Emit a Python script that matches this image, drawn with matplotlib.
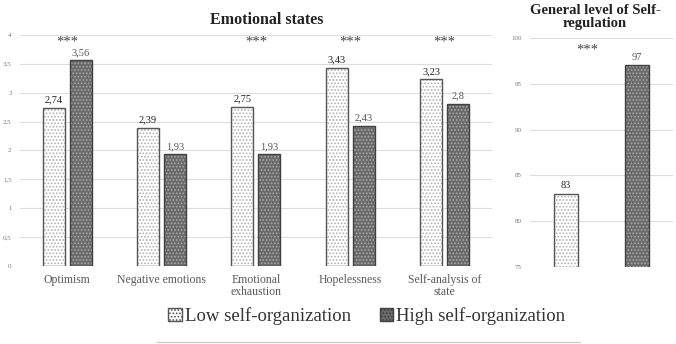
import numpy as np
import matplotlib.pyplot as plt
from matplotlib.patches import Patch
from matplotlib.lines import Line2D

# data
categories = ['Optimism', 'Negative emotions', 'Emotional\nexhaustion',
              'Hopelessness', 'Self-analysis of\nstate']
low_vals = [2.74, 2.39, 2.75, 3.43, 3.23]
high_vals = [3.56, 1.93, 1.93, 2.43, 2.80]
stars = ['***', '', '***', '***', '***']

reg_low = 83
reg_high = 97

plt.rcParams['font.family'] = ['Liberation Serif', 'DejaVu Serif']
plt.rcParams['hatch.linewidth'] = 0.8

low_face, low_dot, low_edge = 'white', '#b0b0b0', '#555555'
high_face, high_dot, high_edge = '#6a6a6a', '#a8a8a8', '#404040'

def fmt(v):
    s = ('%.2f' % v).rstrip('0').rstrip('.')
    return s.replace('.', ',')

def draw_bar(ax, x, h, w, face, dot, edge):
    ax.bar(x, h, w, color=face, edgecolor=dot, hatch='.....', linewidth=0, zorder=2)
    ax.bar(x, h, w, fill=False, edgecolor=edge, linewidth=1, zorder=3)

def style(ax):
    for s in ax.spines.values():
        s.set_visible(False)
    ax.yaxis.grid(True, color='#dcdcdc', linewidth=0.8, zorder=0)
    ax.set_axisbelow(True)
    ax.tick_params(axis='y', length=0, labelsize=5, labelcolor='#777777', pad=6)
    ax.tick_params(axis='x', length=0, pad=6)

fig = plt.figure(figsize=(6.76, 3.44), dpi=100)

# left chart: emotional states
ax = fig.add_axes([0.0296, 0.2267, 0.698, 0.672])
x = np.arange(len(categories))
w = 0.233
off = 0.143
draw_bar(ax, x - off, low_vals, w, low_face, low_dot, low_edge)
draw_bar(ax, x + off, high_vals, w, high_face, high_dot, high_edge)
for i in range(len(categories)):
    ax.text(x[i] - off, low_vals[i] + 0.06, fmt(low_vals[i]), ha='center', va='bottom',
            fontsize=7.5, color='#222222')
    ax.text(x[i] + off, high_vals[i] + 0.06, fmt(high_vals[i]), ha='center', va='bottom',
            fontsize=7.5, color='#555555')
    if stars[i]:
        ax.text(x[i], 3.88, stars[i], ha='center', va='center', fontsize=10.5, color='#444444')
ax.set_xlim(-0.5, 4.5)
ax.set_ylim(0, 4)
ax.set_yticks(np.arange(0, 4.01, 0.5))
ax.set_yticklabels([fmt(v) for v in np.arange(0, 4.01, 0.5)])
ax.set_xticks(x)
ax.set_xticklabels(categories, fontsize=8.5, color='#595959', linespacing=1.0)
style(ax)

# right chart: general level of self-regulation
ax2 = fig.add_axes([0.784, 0.2238, 0.2115, 0.6657])
draw_bar(ax2, 0, reg_low, 0.336, low_face, low_dot, low_edge)
draw_bar(ax2, 1, reg_high, 0.336, high_face, high_dot, high_edge)
ax2.text(0, reg_low + 0.4, str(reg_low), ha='center', va='bottom', fontsize=7.5, color='#222222')
ax2.text(1, reg_high + 0.4, str(reg_high), ha='center', va='bottom', fontsize=7.5, color='#555555')
ax2.text(0.3, 98.7, '***', ha='center', va='center', fontsize=10.5, color='#444444')
ax2.set_xlim(-0.5, 1.5)
ax2.set_ylim(75, 100)
ax2.set_yticks(np.arange(75, 101, 5))
ax2.set_xticks([])
style(ax2)

fig.text(267 / 676, 1 - 20 / 344, 'Emotional states', ha='center', va='center',
         fontsize=11.5, fontweight='bold', color='#222222')
fig.text(595 / 676, 1 - 17 / 344, 'General level of Self-\nregulation', ha='center',
         va='center', fontsize=10.5, fontweight='bold', color='#222222', linespacing=1.05)

handles = [Patch(facecolor=low_face, edgecolor=low_edge, hatch='.....', linewidth=1),
           Patch(facecolor=high_face, edgecolor=high_edge, hatch='.....', linewidth=1)]
fig.legend(handles, ['Low self-organization', 'High self-organization'], loc='center',
           bbox_to_anchor=(367 / 676, 1 - 316 / 344), ncol=2, frameon=False,
           fontsize=13.5, handlelength=0.7, handleheight=0.7, handletextpad=0.2,
           columnspacing=1.5, labelcolor='#333333')

fig.add_artist(Line2D([157 / 676, 580 / 676], [2 / 344, 2 / 344], color='#cccccc', linewidth=1))

fig.savefig('out.png', dpi=100)
